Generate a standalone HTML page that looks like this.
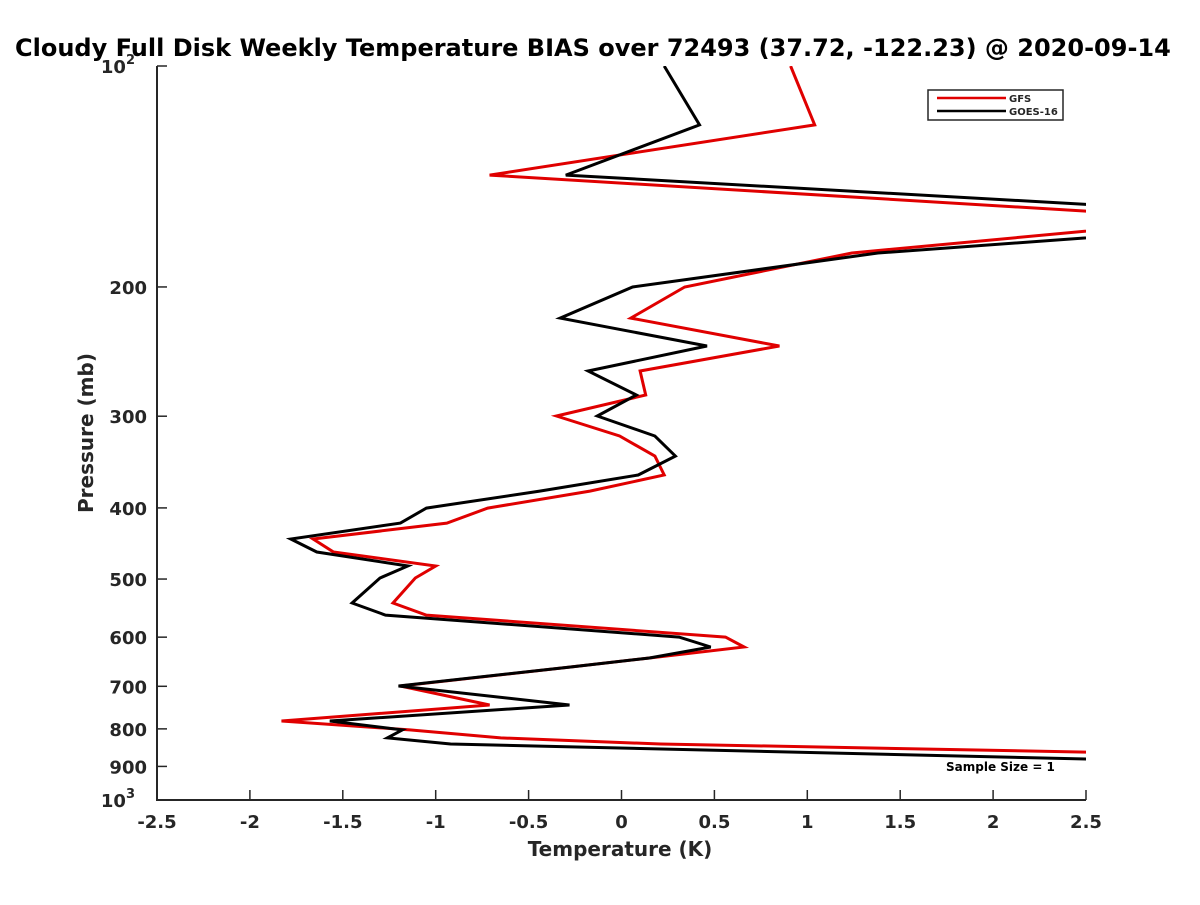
<!DOCTYPE html>
<html><head><meta charset="utf-8"><style>
html,body{margin:0;padding:0;background:#fff;overflow:hidden}
svg text{font-family:"DejaVu Sans","Liberation Sans",sans-serif;font-weight:bold;fill:#262626}
</style></head><body>
<svg width="1200" height="900" xmlns="http://www.w3.org/2000/svg" id="chart">
<defs><clipPath id="clip"><rect x="157" y="66" width="929" height="734"/></clipPath></defs>
<text x="15" y="56" font-size="24" style="fill:#000">Cloudy Full Disk Weekly Temperature BIAS over 72493 (37.72, -122.23) @ 2020-09-14</text>
<g id="axes"></g>
<g id="lines" clip-path="url(#clip)"></g>
<text x="620" y="856" font-size="20" text-anchor="middle">Temperature (K)</text>
<text transform="translate(93,433) rotate(-90)" font-size="20" text-anchor="middle">Pressure (mb)</text>
<g>
<rect x="928" y="90" width="135" height="30" fill="#fff" stroke="#262626" stroke-width="1.5"/>
<line x1="937" y1="98" x2="1006" y2="98" stroke="#e00000" stroke-width="2.5"/>
<text x="1009" y="102" font-size="10">GFS</text>
<line x1="937" y1="111" x2="1006" y2="111" stroke="#000" stroke-width="2.5"/>
<text x="1009" y="115" font-size="10">GOES-16</text>
</g>
<text x="946" y="771" font-size="12" style="fill:#000">Sample Size = 1</text>
</svg>
<script>
const levels=[100,120.3,140.8,161.6,179.8,200,220.5,240.7,260.3,280.7,299.8,319.2,340,360.8,379.4,400.2,419.5,441,459.3,480,498.3,539,559.8,599.8,618.9,640.6,659,699.4,742.3,780.4,802.7,823.1,838.8,924.7];
const gfsBias=[0.91,1.04,-0.71,3.2,1.24,0.34,0.05,0.85,0.10,0.13,-0.35,-0.01,0.18,0.23,-0.17,-0.72,-0.94,-1.66,-1.55,-1.00,-1.11,-1.23,-1.05,0.56,0.66,0.15,-0.28,-1.19,-0.71,-1.83,-1.14,-0.65,0.21,9.0];
const goesBias=[0.23,0.42,-0.30,3.9,1.38,0.06,-0.33,0.46,-0.18,0.08,-0.13,0.18,0.29,0.09,-0.44,-1.05,-1.19,-1.78,-1.64,-1.15,-1.30,-1.45,-1.27,0.31,0.48,0.15,-0.28,-1.20,-0.28,-1.57,-1.18,-1.26,-0.92,6.15];
const xTicks=[-2.5,-2,-1.5,-1,-0.5,0,0.5,1,1.5,2,2.5];
const xTickLabels=["-2.5","-2","-1.5","-1","-0.5","0","0.5","1","1.5","2","2.5"];
const yTicks=[100,200,300,400,500,600,700,800,900,1000];
const yTickLabels=["10^2","200","300","400","500","600","700","800","900","10^3"];
const X0=157,X1=1086,Y0=66,Y1=800,xmin=-2.5,xmax=2.5;
const xs=t=>X0+(t-xmin)/(xmax-xmin)*(X1-X0);
const ys=p=>Y0+Math.log10(p/100)*(Y1-Y0);
const NS="http://www.w3.org/2000/svg";
const axes=document.getElementById('axes'),lines=document.getElementById('lines');
function mk(tag,attrs,parent){const e=document.createElementNS(NS,tag);for(const k in attrs)e.setAttribute(k,attrs[k]);parent.appendChild(e);return e;}
const ax=mk('path',{d:`M${X0},${Y0}V${Y1}H${X1}`,fill:'none',stroke:'#262626','stroke-width':2},axes);


xTicks.forEach((t,i)=>{
  const x=xs(t);
  const l=mk('line',{x1:x,x2:x,y1:Y1,y2:Y1-10,stroke:'#262626','stroke-width':1.5},axes);
  
  
  const tx=mk('text',{x:x,y:Y1+28,'font-size':18,'text-anchor':'middle'},axes);
  tx.textContent=xTickLabels[i];
  
  
});
yTicks.forEach((p,i)=>{
  const y=ys(p);
  const l=mk('line',{x1:X0,x2:X0+10,y1:y,y2:y,stroke:'#262626','stroke-width':1.5},axes);
  
  
  const tx=mk('text',{x:X0-10,y:y+7,'font-size':18,'text-anchor':'end'},axes);
  const lab=yTickLabels[i];
  if(lab.includes('^')){const [b,e]=lab.split('^');tx.textContent=b;const sp=mk('tspan',{dy:-9,'font-size':13},tx);sp.textContent=e;tx.setAttribute('x',X0-22);}
  else tx.textContent=lab;
  
  
});
function series(vals,color,name){
  const d=vals.map((t,i)=>(i?'L':'M')+xs(t).toFixed(1)+','+ys(levels[i]).toFixed(1)).join('');
  const p=mk('path',{d:d,fill:'none',stroke:color,'stroke-width':3,'stroke-linejoin':'miter'},lines);
  
  
}
series(gfsBias,'#e00000','gfs-line');
series(goesBias,'#000000','goes16-line');
</script>
</body></html>
